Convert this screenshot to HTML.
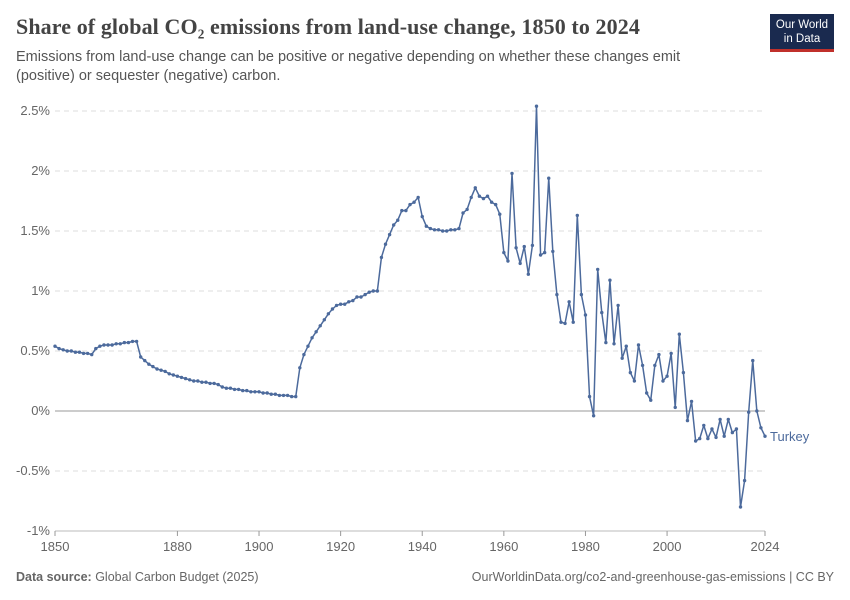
<!DOCTYPE html>
<html><head><meta charset="utf-8">
<style>
body{margin:0;background:#fff;font-family:"Liberation Sans",sans-serif;}
#wrap{position:relative;width:850px;height:600px;overflow:hidden;}
.title{position:absolute;left:16px;top:14px;font-family:"Liberation Serif",serif;font-size:22px;font-weight:bold;color:#444;letter-spacing:0.1px;}
.sub{position:absolute;left:16px;top:48px;font-size:14.5px;color:#555;line-height:19px;width:720px;}
.logo{position:absolute;left:770px;top:14px;width:64px;height:38px;background:#1a2a4f;color:#fff;font-size:11.5px;text-align:center;line-height:14px;padding-top:4px;box-sizing:border-box;border-bottom:3px solid #c0302b;}
.foot{position:absolute;top:570px;font-size:12.5px;color:#666;}
</style></head><body>
<div id="wrap">
<div class="title">Share of global CO₂ emissions from land-use change, 1850 to 2024</div>
<div class="sub">Emissions from land-use change can be positive or negative depending on whether these changes emit (positive) or sequester (negative) carbon.</div>
<div class="logo">Our World<br>in Data</div>
<svg id="chart" width="850" height="600" style="position:absolute;left:0;top:0"></svg>
<div class="foot" style="left:16px"><b>Data source:</b> Global Carbon Budget (2025)</div>
<div class="foot" style="right:16px">OurWorldinData.org/co2-and-greenhouse-gas-emissions | CC BY</div>
</div>
<script>
const startYear = 1850;
const values = [
0.54,0.52,0.51,0.50,0.50,0.49,0.49,0.48,0.48,0.47,
0.52,0.54,0.55,0.55,0.55,0.56,0.56,0.57,0.57,0.58,0.58,
0.45,0.42,0.39,0.37,0.35,0.34,0.33,0.31,0.30,0.29,
0.28,0.27,0.26,0.25,0.25,0.24,0.24,0.23,0.23,0.22,
0.20,0.19,0.19,0.18,0.18,0.17,0.17,0.16,0.16,0.16,
0.15,0.15,0.14,0.14,0.13,0.13,0.13,0.12,0.12,
0.36,0.47,0.54,0.61,0.66,0.71,0.76,0.81,0.85,0.88,
0.89,0.89,0.91,0.92,0.95,0.95,0.97,0.99,1.0,1.0,
1.28,1.39,1.47,1.55,1.59,1.67,1.67,1.72,1.74,1.78,
1.62,1.54,1.52,1.51,1.51,1.50,1.50,1.51,1.51,1.52,
1.65,1.68,1.78,1.86,1.79,1.77,1.79,1.74,1.72,1.64,
1.32,1.25,1.98,1.36,1.23,1.37,1.14,1.38,2.54,1.30,
1.32,1.94,1.33,0.97,0.74,0.73,0.91,0.74,1.63,0.97,
0.80,0.12,-0.04,1.18,0.82,0.57,1.09,0.56,0.88,0.44,
0.54,0.32,0.25,0.55,0.38,0.15,0.09,0.38,0.47,0.25,
0.29,0.48,0.03,0.64,0.32,-0.08,0.08,-0.25,-0.23,-0.12,
-0.23,-0.15,-0.22,-0.07,-0.21,-0.07,-0.18,-0.15,-0.80,-0.58,
-0.01,0.42,0.00,-0.14,-0.21];
const yTicks = [-1,-0.5,0,0.5,1,1.5,2,2.5];
const yTickLabels = ["-1%","-0.5%","0%","0.5%","1%","1.5%","2%","2.5%"];
const xTicks = [1850,1880,1900,1920,1940,1960,1980,2000,2024];

const NS="http://www.w3.org/2000/svg";
const svg=document.getElementById('chart');
const X0=55,X1=765,Y0=411,PPU=120;
const xs=y=>X0+(y-1850)/(2024-1850)*(X1-X0);
const ys=v=>Y0-v*PPU;
function mk(t,a){const e=document.createElementNS(NS,t);for(const k in a)e.setAttribute(k,a[k]);svg.appendChild(e);return e;}
yTicks.forEach((v,i)=>{
  const g=mk('line',{x1:X0,x2:X1,y1:ys(v),y2:ys(v),stroke:v===0?'#999':'#ddd','stroke-dasharray':(v===0||v===-1)?'none':'5,4','stroke-width':1});
  if(v===-1)g.setAttribute('stroke','#bbb');
  
  
  const t=mk('text',{x:50,y:ys(v)+4,'text-anchor':'end','font-size':13,fill:'#666','font-family':'Liberation Sans'});
  t.textContent=yTickLabels[i];
  
  
});
xTicks.forEach(yr=>{
  const l=mk('line',{x1:xs(yr),x2:xs(yr),y1:531,y2:536,stroke:'#999'});
  
  
  const t=mk('text',{x:xs(yr),y:551,'text-anchor':'middle','font-size':13,fill:'#666','font-family':'Liberation Sans'});
  t.textContent=yr;
  
  
});
const pts=values.map((v,i)=>xs(startYear+i)+','+ys(v)).join(' ');
const pl=mk('polyline',{points:pts,fill:'none',stroke:'#4c6a9c','stroke-width':1.5,'stroke-linejoin':'round'});


values.forEach((v,i)=>{
  const c=mk('circle',{cx:xs(startYear+i),cy:ys(v),r:1.7,fill:'#4c6a9c'});
  
  
});
const lab=mk('text',{x:770,y:ys(values[values.length-1])+5,'font-size':13,fill:'#4c6a9c','font-family':'Liberation Sans'});
lab.textContent='Turkey';


</script>
</body></html>
